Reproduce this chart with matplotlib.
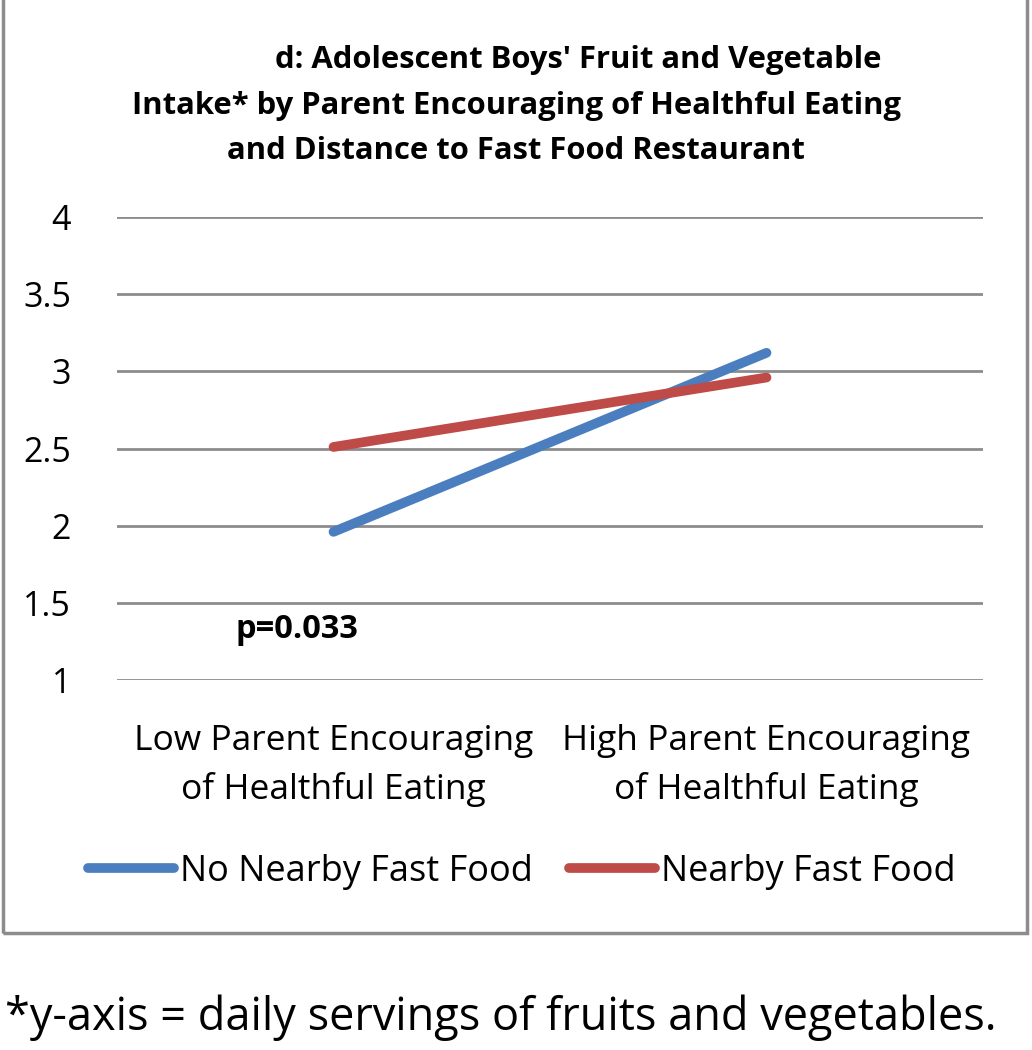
import matplotlib.pyplot as plt
from matplotlib.patches import Rectangle

plt.rcParams['font.family'] = ['Open Sans', 'DejaVu Sans']

categories = ["Low Parent Encouraging\nof Healthful Eating",
              "High Parent Encouraging\nof Healthful Eating"]
no_nearby = [1.96, 3.12]
nearby = [2.51, 2.96]
yticks = [1, 1.5, 2, 2.5, 3, 3.5, 4]
title_lines = ["d: Adolescent Boys' Fruit and Vegetable",
               "Intake* by Parent Encouraging of Healthful Eating",
               "and Distance to Fast Food Restaurant"]

fig = plt.figure(figsize=(10.32, 10.5), dpi=100)
ax = fig.add_axes([117/1032, 1-680/1050, 866/1032, 463/1050])

x = range(len(categories))
ax.plot(x, no_nearby, color="#4a7ebf", lw=7, solid_capstyle='round', label="No Nearby Fast Food", zorder=3)
ax.plot(x, nearby, color="#be4b48", lw=7, solid_capstyle='round', label="Nearby Fast Food", zorder=3)

ax.set_xlim(-0.5, 1.5)
ax.set_ylim(1, 4)
ax.set_yticks(yticks)
ax.set_yticklabels([f"{v:g}" for v in yticks], fontsize=24.5)
ax.set_xticks(list(x))
ax.set_xticklabels(categories, fontsize=25.5, linespacing=1.49)
ax.tick_params(length=0)
ax.tick_params(axis='y', pad=33)
ax.tick_params(axis='x', pad=32)
ax.grid(axis='y', color="#8c8c8c", lw=2)
ax.set_axisbelow(True)
for s in ax.spines.values():
    s.set_visible(False)

ax.text(-0.084, 1.33, "p=0.033", fontsize=23.5, fontweight='bold', ha='center', va='center')

# title lines are not all centred the same in the original
for line, cx, cy in zip(title_lines, [578, 517, 516], [60, 106, 151]):
    fig.text(cx/1032, 1-cy/1050, line, ha='center', va='center', fontsize=22.3, fontweight='bold')

leg = fig.legend(loc='center', bbox_to_anchor=(521.5/1032, 1-872/1050), ncol=2, frameon=False,
                 fontsize=26, handlelength=2.4, handletextpad=0.15, columnspacing=1.0)

fig.add_artist(Rectangle((3/1032, 1-933/1050), 1024/1032, 935/1050, transform=fig.transFigure,
                         fill=False, edgecolor="#8c8c8c", lw=2.5))

fig.text(5/1032, 1-1018/1050, "*y-axis = daily servings of fruits and vegetables.", fontsize=32.5,
         ha='left', va='center')

plt.savefig("out.png", dpi=100)
